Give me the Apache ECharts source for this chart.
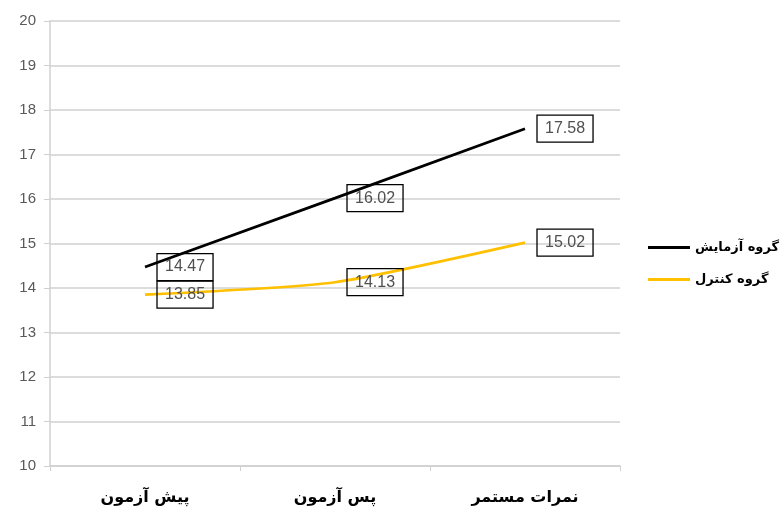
<!DOCTYPE html>
<html>
<head>
<meta charset="utf-8">
<script src="https://cdn.jsdelivr.net/npm/echarts@6/dist/echarts.min.js"></script>
<style>
  html, body { margin: 0; padding: 0; background: #fff; }
  #chart { width: 784px; height: 511px; }
</style>
</head>
<body>
<div id="chart"></div>
<script>
// داده‌ها
const categories = ['پیش آزمون', 'پس آزمون', 'نمرات مستمر'];
const experimentName = 'گروه آزمایش';
const controlName = 'گروه کنترل';
const experimentValues = [14.47, 16.02, 17.58];
const controlValues = [13.85, 14.13, 15.02];
const yTicks = [10, 11, 12, 13, 14, 15, 16, 17, 18, 19, 20];

const chart = echarts.init(document.getElementById('chart'));

const boxLabel = {
  show: true,
  position: 'right',
  distance: 12,
  color: '#505050',
  fontFamily: 'Liberation Sans, Arial, sans-serif',
  fontSize: 16,
  borderColor: '#000',
  borderWidth: 1.3,
  padding: [6, 8, 5, 8],
  formatter: p => p.value.toFixed(2)
};

chart.setOption({
  animation: false,
  grid: { left: 50, right: 164, top: 21, bottom: 45 },
  legend: {
    orient: 'vertical',
    left: 643,
    top: 236,
    itemGap: 19,
    itemWidth: 42,
    itemHeight: 3,
    icon: 'rect',
    textStyle: {
      fontFamily: 'DejaVu Sans, sans-serif',
      fontSize: 13,
      fontWeight: 'bold',
      color: '#000'
    },
    data: [experimentName, controlName]
  },
  xAxis: {
    type: 'category',
    data: categories,
    boundaryGap: true,
    axisLine: { lineStyle: { color: '#d0d0d0', width: 1.5 } },
    axisTick: { show: true, length: 5, lineStyle: { color: '#d0d0d0' } },
    axisLabel: {
      margin: 24,
      color: '#000',
      fontSize: 16,
      fontWeight: 'bold',
      fontFamily: 'DejaVu Sans, sans-serif'
    }
  },
  yAxis: {
    type: 'value',
    min: yTicks[0],
    max: yTicks[yTicks.length - 1],
    interval: 1,
    axisLine: { show: true, lineStyle: { color: '#d0d0d0', width: 1.5 } },
    axisTick: { show: true, length: 6, lineStyle: { color: '#d0d0d0' } },
    splitLine: { lineStyle: { color: '#d0d0d0', width: 1.5 } },
    axisLabel: {
      margin: 14,
      color: '#595959',
      fontSize: 15,
      fontFamily: 'Liberation Sans, Arial, sans-serif'
    }
  },
  series: [
    {
      name: experimentName,
      type: 'line',
      data: experimentValues,
      symbol: 'circle',
      symbolSize: 0.01,
      lineStyle: { color: '#000', width: 2.7 },
      itemStyle: { color: '#000' },
      label: boxLabel
    },
    {
      name: controlName,
      type: 'line',
      data: controlValues,
      smooth: 0.2,
      symbol: 'circle',
      symbolSize: 0.01,
      lineStyle: { color: '#FFC000', width: 2.7 },
      itemStyle: { color: '#FFC000' },
      label: boxLabel
    }
  ]
});
</script>
</body>
</html>
